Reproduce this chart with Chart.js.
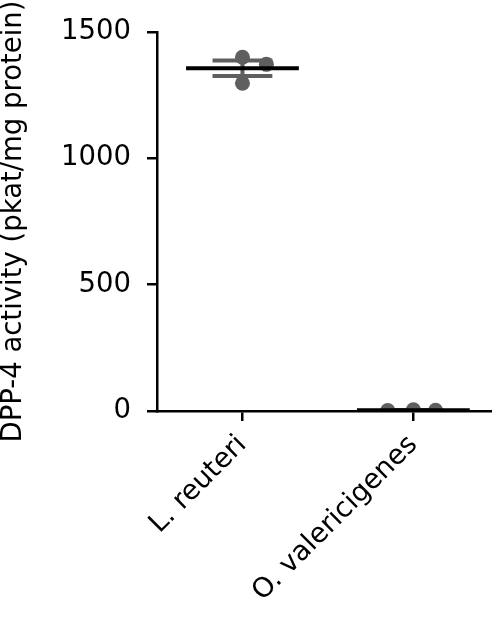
<!DOCTYPE html>
<html><head><meta charset="utf-8">
<script src="https://cdn.jsdelivr.net/npm/chart.js@4/dist/chart.umd.min.js"></script>
<style>html,body{margin:0;padding:0;background:#fff;overflow:hidden}</style>
</head><body>
<canvas id="c" width="492" height="617"></canvas>
<script>
// ---- data ----
const categories = ['L. reuteri', 'O. valericigenes'];
const lReuteriValues = [1400, 1297, 1372];
const oValericigenesValues = [2, 5, 3];
const yTicks = [0, 500, 1000, 1500];
const yTitle = 'DPP-4 activity (pkat/mg protein)';

// ---- derived ----
const groups = [lReuteriValues, oValericigenesValues];
const swarmOffset = [[0, 0, 0.14], [-0.15, 0, 0.13]]; // layout only (dot jitter)
const mean = a => a.reduce((s, v) => s + v, 0) / a.length;
const sem = a => { const m = mean(a); return Math.sqrt(a.reduce((s, v) => s + (v - m) ** 2, 0) / (a.length - 1)) / Math.sqrt(a.length); };

const pointData = groups.flatMap((vals, i) => vals.map((v, j) => ({x: i + swarmOffset[i][j], y: v})));
const meanData = [];
const errData = [];
groups.forEach((vals, i) => {
  const m = mean(vals), s = sem(vals);
  meanData.push({x: i - 0.33, y: m}, {x: i + 0.33, y: m}, {x: i + 0.4, y: null});
  errData.push({x: i, y: m - s}, {x: i, y: m + s}, {x: i, y: null},
               {x: i - 0.175, y: m + s}, {x: i + 0.175, y: m + s}, {x: i, y: null},
               {x: i - 0.175, y: m - s}, {x: i + 0.175, y: m - s}, {x: i, y: null});
});

const FONT = {family: '"DejaVu Sans", sans-serif', size: 27.5};

new Chart(document.getElementById('c'), {
  type: 'scatter',
  data: {
    datasets: [
      {type: 'line', data: meanData, borderColor: '#000', borderWidth: 4, pointRadius: 0, spanGaps: false, order: 1},
      {type: 'line', data: errData, borderColor: '#5f5f5f', borderWidth: 4, pointRadius: 0, spanGaps: false, order: 2},
      {data: pointData, backgroundColor: '#5f5f5f', borderWidth: 0, pointRadius: 7.5, order: 3}
    ]
  },
  options: {
    responsive: false, animation: false, devicePixelRatio: 1,
    layout: {autoPadding: false, padding: {top: 32, left: 0, right: 0, bottom: 0}},
    plugins: {legend: {display: false}, tooltip: {enabled: false}},
    scales: {
      x: {
        type: 'linear', min: -0.5, max: 1.46,
        grid: {drawOnChartArea: false, drawTicks: true, tickLength: 10, color: '#000', lineWidth: 2.5},
        border: {color: '#000', width: 2.5},
        afterBuildTicks: s => { s.ticks = categories.map((_, i) => ({value: i})); },
        afterFit: s => { s.height = 617 - 411; s.paddingLeft = 0; s.paddingRight = 0; },
        ticks: {font: FONT, color: '#000', minRotation: 45, maxRotation: 45, autoSkip: false, padding: 8,
                callback: v => categories[v] ?? ''}
      },
      y: {
        min: 0, max: 1500,
        grid: {drawOnChartArea: false, drawTicks: true, tickLength: 10, color: '#000', lineWidth: 2.5},
        border: {color: '#000', width: 2.5},
        afterBuildTicks: s => { s.ticks = yTicks.map(v => ({value: v})); },
        afterFit: s => { s.width = 157; s.paddingTop = 0; s.paddingBottom = 0; },
        ticks: {font: FONT, color: '#000', padding: 16, callback: v => String(v)},
        title: {display: true, text: yTitle, font: {...FONT, lineHeight: 1.0}, color: '#000', padding: 0}
      }
    }
  }
});
</script>
</body></html>
